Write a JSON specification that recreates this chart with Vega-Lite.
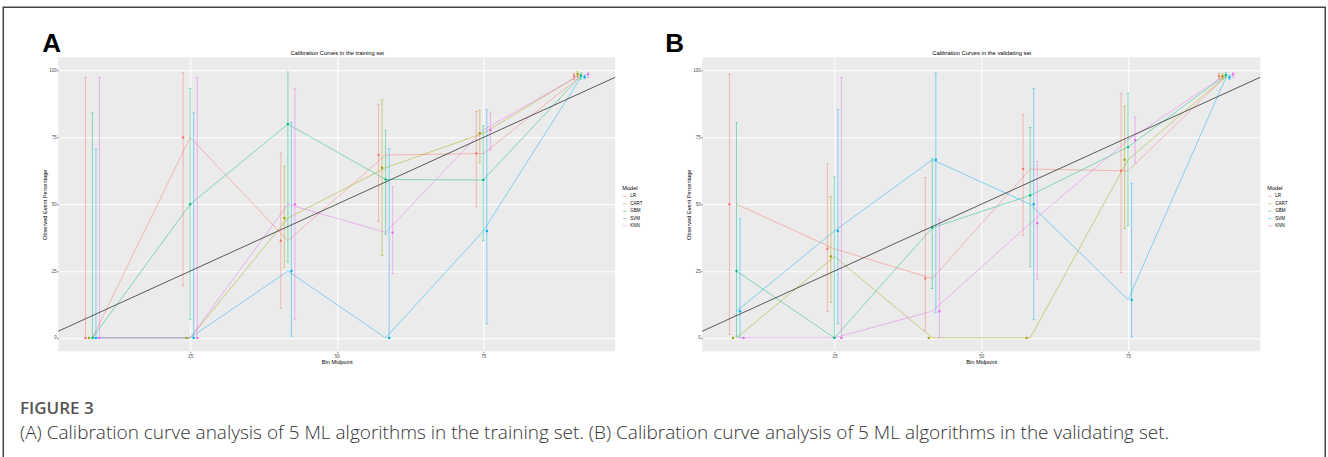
{
  "$schema": "https://vega.github.io/schema/vega-lite/v6.json",
  "background": "white",
  "padding": {"left": 3.25, "top": 7.25, "right": 0, "bottom": 0},
  "autosize": {"type": "pad"},
  "datasets": {
    "diag": [{"x": 0, "y": 0}, {"x": 100, "y": 100}],
    "train": [
      {"Model": "LR", "mid": 8.333, "pct": 0, "lo": 0, "hi": 97.5},
      {"Model": "CART", "mid": 8.333, "pct": 0, "lo": null, "hi": null},
      {"Model": "GBM", "mid": 8.333, "pct": 0, "lo": 0, "hi": 84.19},
      {"Model": "SVM", "mid": 8.333, "pct": 0, "lo": 0, "hi": 70.76},
      {"Model": "KNN", "mid": 8.333, "pct": 0, "lo": 0, "hi": 97.5},
      {"Model": "LR", "mid": 25, "pct": 75, "lo": 19.41, "hi": 99.37},
      {"Model": "CART", "mid": 25, "pct": 0, "lo": null, "hi": null},
      {"Model": "GBM", "mid": 25, "pct": 50, "lo": 6.76, "hi": 93.24},
      {"Model": "SVM", "mid": 25, "pct": 0, "lo": 0, "hi": 84.19},
      {"Model": "KNN", "mid": 25, "pct": 0, "lo": 0, "hi": 97.5},
      {"Model": "LR", "mid": 41.667, "pct": 36.36, "lo": 10.93, "hi": 69.21},
      {"Model": "CART", "mid": 41.667, "pct": 44.83, "lo": 26.45, "hi": 64.31},
      {"Model": "GBM", "mid": 41.667, "pct": 80, "lo": 28.36, "hi": 99.49},
      {"Model": "SVM", "mid": 41.667, "pct": 25, "lo": 0.63, "hi": 80.59},
      {"Model": "KNN", "mid": 41.667, "pct": 50, "lo": 6.76, "hi": 93.24},
      {"Model": "LR", "mid": 58.333, "pct": 68.42, "lo": 43.45, "hi": 87.42},
      {"Model": "CART", "mid": 58.333, "pct": 63.64, "lo": 30.79, "hi": 89.07},
      {"Model": "GBM", "mid": 58.333, "pct": 59.26, "lo": 38.8, "hi": 77.6},
      {"Model": "SVM", "mid": 58.333, "pct": 0, "lo": 0, "hi": 70.76},
      {"Model": "KNN", "mid": 58.333, "pct": 39.47, "lo": 24.04, "hi": 56.61},
      {"Model": "LR", "mid": 75, "pct": 68.97, "lo": 49.17, "hi": 84.72},
      {"Model": "CART", "mid": 75, "pct": 76.54, "lo": 65.6, "hi": 85.2},
      {"Model": "GBM", "mid": 75, "pct": 59.09, "lo": 36.35, "hi": 79.29},
      {"Model": "SVM", "mid": 75, "pct": 40, "lo": 5.27, "hi": 85.34},
      {"Model": "KNN", "mid": 75, "pct": 77.8, "lo": 70.2, "hi": 84.2},
      {"Model": "LR", "mid": 91.667, "pct": 98.0, "lo": 96.6, "hi": 99.0},
      {"Model": "CART", "mid": 91.667, "pct": 98.7, "lo": 97.6, "hi": 99.6},
      {"Model": "GBM", "mid": 91.667, "pct": 98.1, "lo": 96.8, "hi": 99.1},
      {"Model": "SVM", "mid": 91.667, "pct": 97.6, "lo": 96.9, "hi": 98.4},
      {"Model": "KNN", "mid": 91.667, "pct": 98.6, "lo": 97.4, "hi": 99.4}
    ],
    "valid": [
      {"Model": "LR", "mid": 8.333, "pct": 50, "lo": 1.26, "hi": 98.74},
      {"Model": "CART", "mid": 8.333, "pct": 0, "lo": null, "hi": null},
      {"Model": "GBM", "mid": 8.333, "pct": 25, "lo": 0.63, "hi": 80.59},
      {"Model": "SVM", "mid": 8.333, "pct": 10, "lo": 0.25, "hi": 44.5},
      {"Model": "KNN", "mid": 8.333, "pct": 0, "lo": null, "hi": null},
      {"Model": "LR", "mid": 25, "pct": 33.33, "lo": 9.92, "hi": 65.11},
      {"Model": "CART", "mid": 25, "pct": 30.43, "lo": 13.21, "hi": 52.92},
      {"Model": "GBM", "mid": 25, "pct": 0, "lo": 0, "hi": 60.24},
      {"Model": "SVM", "mid": 25, "pct": 40, "lo": 5.27, "hi": 85.34},
      {"Model": "KNN", "mid": 25, "pct": 0, "lo": 0, "hi": 97.5},
      {"Model": "LR", "mid": 41.667, "pct": 22.22, "lo": 2.81, "hi": 60.01},
      {"Model": "CART", "mid": 41.667, "pct": 0, "lo": null, "hi": null},
      {"Model": "GBM", "mid": 41.667, "pct": 41.18, "lo": 18.44, "hi": 67.08},
      {"Model": "SVM", "mid": 41.667, "pct": 66.67, "lo": 9.43, "hi": 99.16},
      {"Model": "KNN", "mid": 41.667, "pct": 10, "lo": 0.25, "hi": 44.5},
      {"Model": "LR", "mid": 58.333, "pct": 63.16, "lo": 38.36, "hi": 83.71},
      {"Model": "CART", "mid": 58.333, "pct": 0, "lo": null, "hi": null},
      {"Model": "GBM", "mid": 58.333, "pct": 53.33, "lo": 26.59, "hi": 78.73},
      {"Model": "SVM", "mid": 58.333, "pct": 50, "lo": 6.76, "hi": 93.24},
      {"Model": "KNN", "mid": 58.333, "pct": 42.86, "lo": 21.82, "hi": 65.98},
      {"Model": "LR", "mid": 75, "pct": 62.5, "lo": 24.49, "hi": 91.48},
      {"Model": "CART", "mid": 75, "pct": 66.67, "lo": 40.99, "hi": 86.66},
      {"Model": "GBM", "mid": 75, "pct": 71.43, "lo": 41.9, "hi": 91.61},
      {"Model": "SVM", "mid": 75, "pct": 14.29, "lo": 0.36, "hi": 57.87},
      {"Model": "KNN", "mid": 75, "pct": 74, "lo": 65.6, "hi": 82.7},
      {"Model": "LR", "mid": 91.667, "pct": 97.9, "lo": 96.8, "hi": 99.0},
      {"Model": "CART", "mid": 91.667, "pct": 97.9, "lo": 96.9, "hi": 98.8},
      {"Model": "GBM", "mid": 91.667, "pct": 98.4, "lo": 97.4, "hi": 99.2},
      {"Model": "SVM", "mid": 91.667, "pct": 97.5, "lo": 96.6, "hi": 98.3},
      {"Model": "KNN", "mid": 91.667, "pct": 98.6, "lo": 97.6, "hi": 99.4}
    ]
  },
  "hconcat": [
    {
      "width": 557,
      "height": 294,
      "resolve": {"axis": {"x": "independent", "y": "independent"}},
      "layer": [
        {
          "data": {"name": "train"},
          "mark": {"type": "line", "strokeWidth": 0.9, "opacity": 0.5},
          "encoding": {
            "x": {"field": "mid", "type": "quantitative", "scale": {"domain": [2.5, 97.5], "nice": false, "zero": false},
                  "axis": {"orient": "bottom", "values": [25, 50, 75], "title": "Bin Midpoint", "gridColor": "white", "gridWidth": 1}},
            "y": {"field": "pct", "type": "quantitative", "scale": {"domain": [-5, 105], "nice": false, "zero": false},
                  "axis": {"orient": "left", "values": [0, 25, 50, 75, 100], "title": "Observed Event Percentage", "gridColor": "white", "gridWidth": 1}},
            "color": {"field": "Model", "type": "nominal",
                      "scale": {"domain": ["LR", "CART", "GBM", "SVM", "KNN"], "range": ["#F8766D", "#A3A500", "#00BF7D", "#00B0F6", "#E76BF3"]},
                      "legend": {"title": "Model", "orient": "none", "legendX": 564, "legendY": 129}}
          }
        },
        {
          "data": {"name": "train"},
          "mark": {"type": "rule", "strokeWidth": 0.9, "opacity": 0.5, "xOffset": {"expr": "(indexof(['LR','CART','GBM','SVM','KNN'], datum.Model) - 2) * 3.52"}},
          "encoding": {
            "x": {"field": "mid", "type": "quantitative", "scale": {"domain": [2.5, 97.5], "nice": false, "zero": false},
                  "axis": {"orient": "top", "title": "Calibration Curves in the training set", "labels": false, "ticks": false, "grid": false, "titleFontSize": 5.8, "titlePadding": 2}},
            "y": {"field": "lo", "type": "quantitative", "scale": {"domain": [-5, 105], "nice": false, "zero": false},
                  "axis": {"orient": "left", "values": [12.5, 37.5, 62.5, 87.5], "labels": false, "ticks": false, "title": null, "gridColor": "white", "gridWidth": 0.5}},
            "y2": {"field": "hi"},
            "color": {"field": "Model", "type": "nominal"}
          }
        },
        {
          "data": {"name": "train"},
          "mark": {"type": "tick", "orient": "horizontal", "size": 2.5, "thickness": 0.7, "opacity": 0.6, "xOffset": {"expr": "(indexof(['LR','CART','GBM','SVM','KNN'], datum.Model) - 2) * 3.52"}},
          "encoding": {
            "x": {"field": "mid", "type": "quantitative", "scale": {"domain": [2.5, 97.5], "nice": false, "zero": false},
                  "axis": {"orient": "bottom", "values": [12.5, 37.5, 62.5, 87.5], "labels": false, "ticks": false, "title": null, "gridColor": "white", "gridWidth": 0.5}},
            "y": {"field": "hi", "type": "quantitative", "scale": {"domain": [-5, 105], "nice": false, "zero": false}, "axis": null},
            "color": {"field": "Model", "type": "nominal"}
          }
        },
        {
          "data": {"name": "train"},
          "mark": {"type": "tick", "orient": "horizontal", "size": 2.5, "thickness": 0.7, "opacity": 0.6, "xOffset": {"expr": "(indexof(['LR','CART','GBM','SVM','KNN'], datum.Model) - 2) * 3.52"}},
          "encoding": {
            "x": {"field": "mid", "type": "quantitative", "scale": {"domain": [2.5, 97.5], "nice": false, "zero": false},
                  "axis": {"orient": "top", "title": "A", "labels": false, "ticks": false, "grid": false, "domain": false,
                           "titleX": -16.5, "titleY": -6, "titleAlign": "left", "titleAnchor": null, "titleBaseline": "alphabetic", "titleAngle": 0,
                           "titleFont": "Liberation Sans", "titleFontSize": 26, "titleFontWeight": "bold", "titleColor": "#000000"}},
            "y": {"field": "lo", "type": "quantitative", "scale": {"domain": [-5, 105], "nice": false, "zero": false}, "axis": null},
            "color": {"field": "Model", "type": "nominal"}
          }
        },
        {
          "data": {"name": "train"},
          "mark": {"type": "point", "filled": true, "size": 6, "opacity": 1, "xOffset": {"expr": "(indexof(['LR','CART','GBM','SVM','KNN'], datum.Model) - 2) * 3.52"}},
          "encoding": {
            "x": {"field": "mid", "type": "quantitative", "scale": {"domain": [2.5, 97.5], "nice": false, "zero": false}, "axis": null},
            "y": {"field": "pct", "type": "quantitative", "scale": {"domain": [-5, 105], "nice": false, "zero": false}, "axis": null},
            "color": {"field": "Model", "type": "nominal"}
          }
        },
        {
          "data": {"name": "diag"},
          "mark": {"type": "line", "color": "#333333", "strokeWidth": 0.8, "clip": true},
          "encoding": {
            "x": {"field": "x", "type": "quantitative", "scale": {"domain": [2.5, 97.5], "nice": false, "zero": false}, "axis": null},
            "y": {"field": "y", "type": "quantitative", "scale": {"domain": [-5, 105], "nice": false, "zero": false}, "axis": null}
          }
        },
        {
          "data": {"name": "diag"},
          "mark": {"type": "point", "filled": true, "opacity": 0, "size": 1},
          "encoding": {
            "x": {"field": "x", "type": "quantitative", "scale": {"domain": [2.5, 97.5], "nice": false, "zero": false}, "axis": null},
            "y": {"field": "y", "type": "quantitative", "scale": {"domain": [-5, 105], "nice": false, "zero": false}, "axis": null},
            "fill": {"field": "y", "type": "quantitative", "scale": {"domain": [0, 100], "range": ["transparent", "transparent"]},
                     "legend": {"type": "gradient", "orient": "none", "legendX": -55, "legendY": -50, "direction": "horizontal",
                                "title": null, "padding": 0, "gradientLength": 1322, "gradientThickness": 456,
                                "gradientStrokeColor": "#444444", "gradientStrokeWidth": 1.5,
                                "labelExpr": "''", "labelFontSize": 1, "labelOffset": 0}}
          }
        }
      ]
    },
    {
      "width": 558,
      "height": 294,
      "resolve": {"axis": {"x": "independent", "y": "independent"}},
      "layer": [
        {
          "data": {"name": "valid"},
          "mark": {"type": "line", "strokeWidth": 0.9, "opacity": 0.5},
          "encoding": {
            "x": {"field": "mid", "type": "quantitative", "scale": {"domain": [2.5, 97.5], "nice": false, "zero": false},
                  "axis": {"orient": "bottom", "values": [25, 50, 75], "title": "Bin Midpoint", "gridColor": "white", "gridWidth": 1}},
            "y": {"field": "pct", "type": "quantitative", "scale": {"domain": [-5, 105], "nice": false, "zero": false},
                  "axis": {"orient": "left", "values": [0, 25, 50, 75, 100], "title": "Observed Event Percentage", "gridColor": "white", "gridWidth": 1}},
            "color": {"field": "Model", "type": "nominal",
                      "scale": {"domain": ["LR", "CART", "GBM", "SVM", "KNN"], "range": ["#F8766D", "#A3A500", "#00BF7D", "#00B0F6", "#E76BF3"]},
                      "legend": {"title": "Model", "orient": "none", "legendX": 565, "legendY": 129}}
          }
        },
        {
          "data": {"name": "valid"},
          "mark": {"type": "rule", "strokeWidth": 0.9, "opacity": 0.5, "xOffset": {"expr": "(indexof(['LR','CART','GBM','SVM','KNN'], datum.Model) - 2) * 3.52"}},
          "encoding": {
            "x": {"field": "mid", "type": "quantitative", "scale": {"domain": [2.5, 97.5], "nice": false, "zero": false},
                  "axis": {"orient": "top", "title": "Calibration Curves in the validating set", "labels": false, "ticks": false, "grid": false, "titleFontSize": 5.8, "titlePadding": 2}},
            "y": {"field": "lo", "type": "quantitative", "scale": {"domain": [-5, 105], "nice": false, "zero": false},
                  "axis": {"orient": "left", "values": [12.5, 37.5, 62.5, 87.5], "labels": false, "ticks": false, "title": null, "gridColor": "white", "gridWidth": 0.5}},
            "y2": {"field": "hi"},
            "color": {"field": "Model", "type": "nominal"}
          }
        },
        {
          "data": {"name": "valid"},
          "mark": {"type": "tick", "orient": "horizontal", "size": 2.5, "thickness": 0.7, "opacity": 0.6, "xOffset": {"expr": "(indexof(['LR','CART','GBM','SVM','KNN'], datum.Model) - 2) * 3.52"}},
          "encoding": {
            "x": {"field": "mid", "type": "quantitative", "scale": {"domain": [2.5, 97.5], "nice": false, "zero": false},
                  "axis": {"orient": "bottom", "values": [12.5, 37.5, 62.5, 87.5], "labels": false, "ticks": false, "title": null, "gridColor": "white", "gridWidth": 0.5}},
            "y": {"field": "hi", "type": "quantitative", "scale": {"domain": [-5, 105], "nice": false, "zero": false}, "axis": null},
            "color": {"field": "Model", "type": "nominal"}
          }
        },
        {
          "data": {"name": "valid"},
          "mark": {"type": "tick", "orient": "horizontal", "size": 2.5, "thickness": 0.7, "opacity": 0.6, "xOffset": {"expr": "(indexof(['LR','CART','GBM','SVM','KNN'], datum.Model) - 2) * 3.52"}},
          "encoding": {
            "x": {"field": "mid", "type": "quantitative", "scale": {"domain": [2.5, 97.5], "nice": false, "zero": false},
                  "axis": {"orient": "top", "title": "B", "labels": false, "ticks": false, "grid": false, "domain": false,
                           "titleX": -37.5, "titleY": -6, "titleAlign": "left", "titleAnchor": null, "titleBaseline": "alphabetic", "titleAngle": 0,
                           "titleFont": "Liberation Sans", "titleFontSize": 26, "titleFontWeight": "bold", "titleColor": "#000000"}},
            "y": {"field": "lo", "type": "quantitative", "scale": {"domain": [-5, 105], "nice": false, "zero": false}, "axis": null},
            "color": {"field": "Model", "type": "nominal"}
          }
        },
        {
          "data": {"name": "valid"},
          "mark": {"type": "point", "filled": true, "size": 6, "opacity": 1, "xOffset": {"expr": "(indexof(['LR','CART','GBM','SVM','KNN'], datum.Model) - 2) * 3.52"}},
          "encoding": {
            "x": {"field": "mid", "type": "quantitative", "scale": {"domain": [2.5, 97.5], "nice": false, "zero": false}, "axis": null},
            "y": {"field": "pct", "type": "quantitative", "scale": {"domain": [-5, 105], "nice": false, "zero": false}, "axis": null},
            "color": {"field": "Model", "type": "nominal"}
          }
        },
        {
          "data": {"name": "diag"},
          "mark": {"type": "line", "color": "#333333", "strokeWidth": 0.8, "clip": true},
          "encoding": {
            "x": {"field": "x", "type": "quantitative", "scale": {"domain": [2.5, 97.5], "nice": false, "zero": false}, "axis": null},
            "y": {"field": "y", "type": "quantitative", "scale": {"domain": [-5, 105], "nice": false, "zero": false}, "axis": null}
          }
        }
      ]
    }
  ],
  "spacing": 87,
  "bounds": "flush",
  "resolve": {"scale": {"color": "independent"}, "legend": {"color": "independent"}},
  "title": {
    "text": "FIGURE 3",
    "subtitle": "(A) Calibration curve analysis of 5 ML algorithms in the training set. (B) Calibration curve analysis of 5 ML algorithms in the validating set.",
    "orient": "bottom", "anchor": "start", "frame": "bounds",
    "dx": 16.75, "offset": -63.5,
    "font": "Open Sans", "fontSize": 17, "fontWeight": 600, "color": "#555555",
    "subtitleFont": "Open Sans", "subtitleFontSize": 19, "subtitleFontWeight": 300, "subtitleColor": "#333333", "subtitlePadding": 6
  },
  "config": {
    "font": "Liberation Sans",
    "view": {"fill": "#EBEBEB", "stroke": null},
    "axis": {
      "domain": false, "labelFont": "Liberation Sans", "labelFontSize": 4.5, "labelColor": "#4D4D4D",
      "tickColor": "#333333", "tickSize": 1.5, "tickWidth": 0.6, "labelPadding": 0.5,
      "titleFont": "Liberation Sans", "titleFontSize": 5.6, "titleFontWeight": "normal", "titleColor": "#000000", "titlePadding": 1.5
    },
    "legend": {
      "titleFont": "Liberation Sans", "titleFontSize": 5.6, "titleFontWeight": "normal", "titleColor": "#000000", "titlePadding": 2,
      "labelFont": "Liberation Sans", "labelFontSize": 4.5, "labelColor": "#000000", "labelOffset": 3,
      "symbolType": "stroke", "symbolSize": 12, "symbolStrokeWidth": 1, "rowPadding": 1.4, "padding": 0
    }
  }
}
